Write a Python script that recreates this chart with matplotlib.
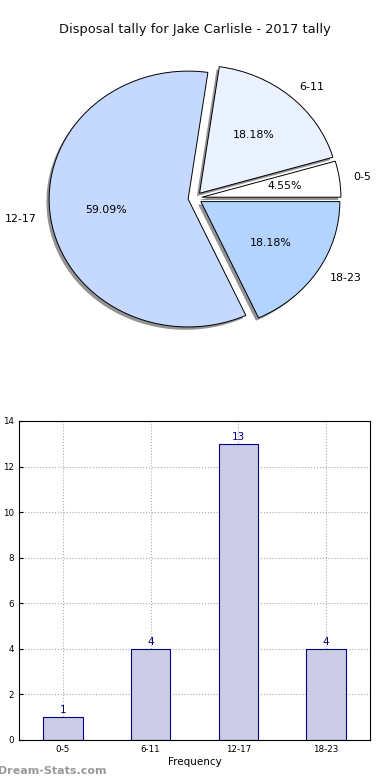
import matplotlib
matplotlib.use("Agg")
import matplotlib.pyplot as plt

categories = ["0-5", "6-11", "12-17", "18-23"]
counts = [1, 4, 13, 4]
pie_colors = ["#ffffff", "#eaf1ff", "#c5d9ff", "#b3d4ff"]
explode = [0.05, 0.05, 0.05, 0.05]
yticks = [0, 2, 4, 6, 8, 10, 12, 14]

fig = plt.figure(figsize=(3.9, 7.8), dpi=100)

# Title
fig.text(0.5, 1 - 30 / 780, "Disposal tally for Jake Carlisle - 2017 tally",
         ha="center", va="center", fontsize=9.4, color="#111111")

# Pie (stretched horizontally like the reference)
axp = fig.add_axes([0.0545, 0.541, 0.891, 0.410])
wedges, texts, autotexts = axp.pie(
    counts, labels=categories, colors=pie_colors, explode=explode,
    autopct="%1.2f%%", startangle=0, counterclock=True,
    shadow=dict(ox=-0.014, oy=-0.016, facecolor="#808080",
                edgecolor="none", alpha=0.85),
    pctdistance=0.6, labeldistance=1.1,
    wedgeprops=dict(edgecolor="black", linewidth=0.7),
    textprops=dict(fontsize=7.9, color="black"))
axp.set_xlim(-1.25, 1.25)
axp.set_ylim(-1.25, 1.25)
axp.set_aspect("auto")
axp.axis("off")

# Bar chart
axb = fig.add_axes([0.0487, 0.0513, 0.9, 0.409])
x = list(range(len(categories)))
axb.bar(x, counts, width=0.45, color="#cccce6",
        edgecolor="#000080", linewidth=0.8, zorder=2)
for xi, v in zip(x, counts):
    axb.text(xi, v + 0.08, str(v), ha="center", va="bottom",
             color="#000080", fontsize=7.5)
axb.set_xlim(-0.5, 3.5)
axb.set_ylim(0, 14)
axb.set_yticks(yticks)
axb.set_xticks(x)
axb.set_xticklabels(categories)
axb.tick_params(axis="both", labelsize=6.3, direction="in", length=3)
axb.grid(True, linestyle=":", color="#aaaaaa", linewidth=0.8, zorder=0)
axb.set_axisbelow(True)
axb.set_xlabel("Frequency", fontsize=7.5, labelpad=2)
axb.set_ylabel("Disposal Tally", fontsize=7.5)
axb.yaxis.set_label_coords(-0.07, 0.5)
for s in axb.spines.values():
    s.set_linewidth(0.8)

# Watermark
fig.text(-0.005, 1 - 771 / 780, "Dream-Stats.com", ha="left", va="center",
         fontsize=8, color="#999999", fontweight="bold")

fig.savefig("out.png", dpi=100)
